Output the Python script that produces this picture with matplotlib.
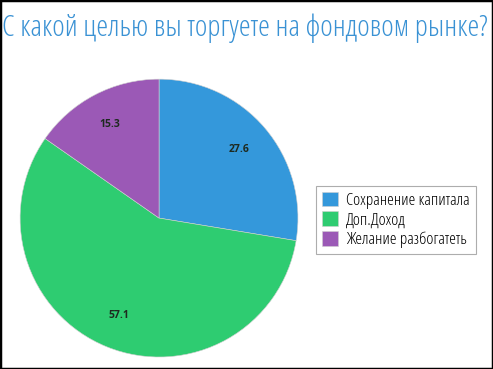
import matplotlib
matplotlib.use("Agg")
import matplotlib.pyplot as plt
from matplotlib.font_manager import FontProperties
from matplotlib.patches import Rectangle

labels = ["Сохранение капитала", "Доп.Доход", "Желание разбогатеть"]
values = [27.6, 57.1, 15.3]
colors = ["#3498db", "#2ecc71", "#9b59b6"]
title = "С какой целью вы торгуете на фондовом рынке?"

fam = ["Open Sans", "DejaVu Sans"]

fig = plt.figure(figsize=(4.93, 3.69), dpi=100)
fig.patch.set_facecolor("white")

ax = fig.add_axes([0.0406, 0.0325, 0.564, 0.753])
wedges, texts, autotexts = ax.pie(values, colors=colors, startangle=90, counterclock=False,
                                  autopct="%.1f", pctdistance=0.76, radius=1.0,
                                  wedgeprops=dict(edgecolor="#d0d0d0", linewidth=0.4))
for t in autotexts:
    t.set_fontproperties(FontProperties(family=fam, stretch="condensed", weight="bold", size=7.5))
    t.set_color("#1e2a20")
ax.set_xlim(-1, 1)
ax.set_ylim(-1, 1)
ax.set_aspect("equal")

fig.text(0.004, 0.903, title, color="#3a92d4", ha="left", va="baseline",
         fontproperties=FontProperties(family=fam, stretch="condensed", size=21.6))

leg = fig.legend(wedges, labels, loc="upper left", bbox_to_anchor=(0.641, 0.497),
                 frameon=True, fancybox=False, handlelength=0.95, handleheight=0.95,
                 handletextpad=0.45, borderpad=0.35, labelspacing=0.15, borderaxespad=0,
                 prop=FontProperties(family=fam, stretch="condensed", size=12.3))
leg.get_frame().set_edgecolor("#999999")
leg.get_frame().set_linewidth(0.8)

fig.add_artist(Rectangle((0, 0), 1, 1, transform=fig.transFigure, fill=False,
                         edgecolor="black", linewidth=2.5))

fig.savefig("out.png", dpi=100)
